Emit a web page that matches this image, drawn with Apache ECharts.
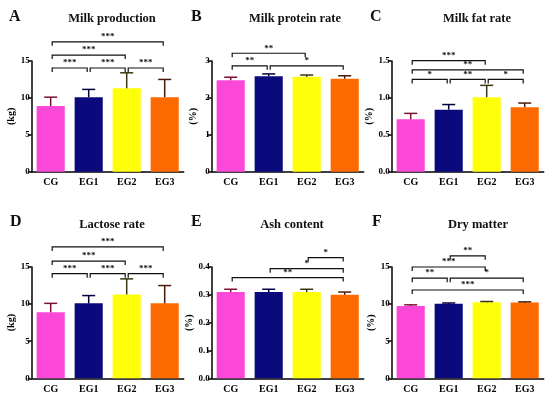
<!DOCTYPE html>
<html><head><meta charset="utf-8">
<script src="https://cdn.jsdelivr.net/npm/echarts@6/dist/echarts.min.js"></script>
<style>html,body{margin:0;padding:0;background:#fff}#c{width:550px;height:396px}</style>
</head><body><div id="c"></div>
<script>
const categories = ['CG','EG1','EG2','EG3'];
const barColors = ['#fb48d8','#0a0a7c','#ffff0a','#ff6a00'];
const errColors = ['#7a1034','#00003c','#3a3410','#4a1a08'];

// A Milk production
const milkProdMean = [8.9, 10.1, 11.3, 10.1];
const milkProdUpper = [10.1, 11.15, 13.4, 12.5];
const milkProdSig = [[0,1,14.05],[1,2,14.05],[2,3,14.05],[0,2,15.8],[0,3,17.6]];
const milkProdSigLabels = ['***','***','***','***','***'];
// B Milk protein rate
const proteinMean = [2.48, 2.585, 2.57, 2.52];
const proteinUpper = [2.56, 2.65, 2.62, 2.6];
const proteinSig = [[0,1,2.87],[1,3,2.87],[0,2,3.21]];
const proteinSigLabels = ['**','*','**'];
// C Milk fat rate
const fatMean = [0.71, 0.84, 1.01, 0.875];
const fatUpper = [0.79, 0.91, 1.17, 0.93];
const fatSig = [[0,1,1.25],[1,2,1.25],[2,3,1.25],[0,3,1.38],[0,2,1.505]];
const fatSigLabels = ['*','**','*','**','***'];
// D Lactose rate
const lactoseMean = [8.9, 10.1, 11.3, 10.1];
const lactoseUpper = [10.1, 11.15, 13.4, 12.5];
const lactoseSig = [[0,1,14.1],[1,2,14.1],[2,3,14.1],[0,2,15.8],[0,3,17.7]];
const lactoseSigLabels = ['***','***','***','***','***'];
// E Ash content
const ashMean = [0.31, 0.31, 0.31, 0.30];
const ashUpper = [0.32, 0.32, 0.32, 0.31];
const ashSig = [[0,3,0.362],[1,3,0.394],[2,3,0.434]];
const ashSigLabels = ['**','*','*'];
// F Dry matter
const dryMean = [9.75, 10.05, 10.25, 10.2];
const dryUpper = [9.9, 10.15, 10.35, 10.3];
const drySig = [[0,3,11.9],[0,1,13.5],[1,3,13.5],[0,2,15.0],[1,2,16.5]];
const drySigLabels = ['***','**','*','***','**'];

const panelLetters = ['A','B','C','D','E','F'];
const panelTitles = ['Milk production','Milk protein rate','Milk fat rate','Lactose rate','Ash content','Dry matter'];
const yNames = ['(kg)','(%)','(%)','(kg)','(%)','(%)'];
const yMax = [15, 3, 1.5, 15, 0.4, 15];
const yInterval = [5, 1, 0.5, 5, 0.1, 5];
const yDecimals = [0, 0, 1, 0, 1, 0];

const means = [milkProdMean, proteinMean, fatMean, lactoseMean, ashMean, dryMean];
const uppers = [milkProdUpper, proteinUpper, fatUpper, lactoseUpper, ashUpper, dryUpper];
const sigs = [milkProdSig, proteinSig, fatSig, lactoseSig, ashSig, drySig];
const sigLabels = [milkProdSigLabels, proteinSigLabels, fatSigLabels, lactoseSigLabels, ashSigLabels, drySigLabels];

const FONT = 'Liberation Serif';
const lefts = [31.7, 211.7, 391.7];
const gridW = 152;
const tops = [61, 267];
const gridH = [110.7, 111.3];
const titleCenters = [107, 290, 472, 107, 287, 473];
const titleTops = [7, 7, 7, 213, 213, 213];
const letterLefts = [4, 186, 365, 5, 186, 367];
const letterTops = [4, 4, 4, 209, 209, 209];

const grids = [], xAxes = [], yAxes = [], series = [], titles = [];
for (let p = 0; p < 6; p++) {
  const col = p % 3, row = Math.floor(p / 3);
  grids.push({left: lefts[col], top: tops[row], width: gridW, height: gridH[row]});
  xAxes.push({type:'category', gridIndex:p, data:categories,
    axisLine:{lineStyle:{color:'#000', width:1.5}},
    axisTick:{alignWithLabel:true, length:3, lineStyle:{color:'#000', width:1.5}},
    axisLabel:{fontFamily:FONT, fontWeight:'bold', fontSize:10, color:'#000', margin:6}});
  const dec = yDecimals[p];
  yAxes.push({type:'value', gridIndex:p, min:0, max:yMax[p], interval:yInterval[p],
    name:yNames[p], nameLocation:'middle', nameGap:13, nameRotate:90,
    nameTextStyle:{fontFamily:FONT, fontWeight:'bold', fontSize:10, color:'#000'},
    axisLine:{show:true, lineStyle:{color:'#000', width:1.5}},
    axisTick:{show:true, length:4, lineStyle:{color:'#000', width:1.5}},
    splitLine:{show:false},
    axisLabel:{fontFamily:FONT, fontWeight:'bold', fontSize:9, color:'#000', margin:2,
      formatter: v => v.toFixed(dec)}});
  series.push({type:'bar', xAxisIndex:p, yAxisIndex:p, barWidth:'74%',
    data: means[p].map((v,i)=>({value:v, itemStyle:{color:barColors[i]}}))});
  series.push({type:'custom', xAxisIndex:p, yAxisIndex:p, z:3,
    data: means[p].map((v,i)=>[i, v, uppers[p][i]]),
    encode:{x:0, y:[1,2]},
    renderItem:(params, api) => {
      const i = api.value(0);
      const a = api.coord([i, api.value(1)]);
      const b = api.coord([i, api.value(2)]);
      const hw = 6.5, c = errColors[params.dataIndex];
      return {type:'group', children:[
        {type:'line', shape:{x1:a[0], y1:a[1], x2:b[0], y2:b[1]}, style:{stroke:c, lineWidth:1.5}},
        {type:'line', shape:{x1:b[0]-hw, y1:b[1], x2:b[0]+hw, y2:b[1]}, style:{stroke:c, lineWidth:1.5}}
      ]};
    }});
  const labs = sigLabels[p];
  series.push({type:'custom', xAxisIndex:p, yAxisIndex:p, z:4, clip:false,
    data: sigs[p],
    encode:{x:[0,1], y:2},
    renderItem:(params, api) => {
      const a = api.coord([api.value(0), api.value(2)]);
      const b = api.coord([api.value(1), api.value(2)]);
      const x1 = a[0] + 1.5, x2 = b[0] - 1.5, y = a[1], d = 4;
      return {type:'group', children:[
        {type:'polyline', shape:{points:[[x1,y+d],[x1,y],[x2,y],[x2,y+d]]}, style:{stroke:'#111', lineWidth:1.2, fill:null}},
        {type:'text', x:(x1+x2)/2, y:y-0.5, style:{text:labs[params.dataIndex], fill:'#111',
          font:'bold 9px "Liberation Serif"', textAlign:'center', textVerticalAlign:'bottom'}}
      ]};
    }});
  titles.push({text:panelTitles[p], left:titleCenters[p], top:titleTops[p], textAlign:'center',
    textStyle:{fontFamily:FONT, fontWeight:'bold', fontSize:12.5, color:'#111'}});
  titles.push({text:panelLetters[p], left:letterLefts[p], top:letterTops[p],
    textStyle:{fontFamily:FONT, fontWeight:'bold', fontSize:16, color:'#111'}});
}

const chart = echarts.init(document.getElementById('c'), null, {renderer:'canvas'});
chart.setOption({animation:false, backgroundColor:'#fff', title:titles, grid:grids,
  xAxis:xAxes, yAxis:yAxes, series:series});
</script></body></html>
